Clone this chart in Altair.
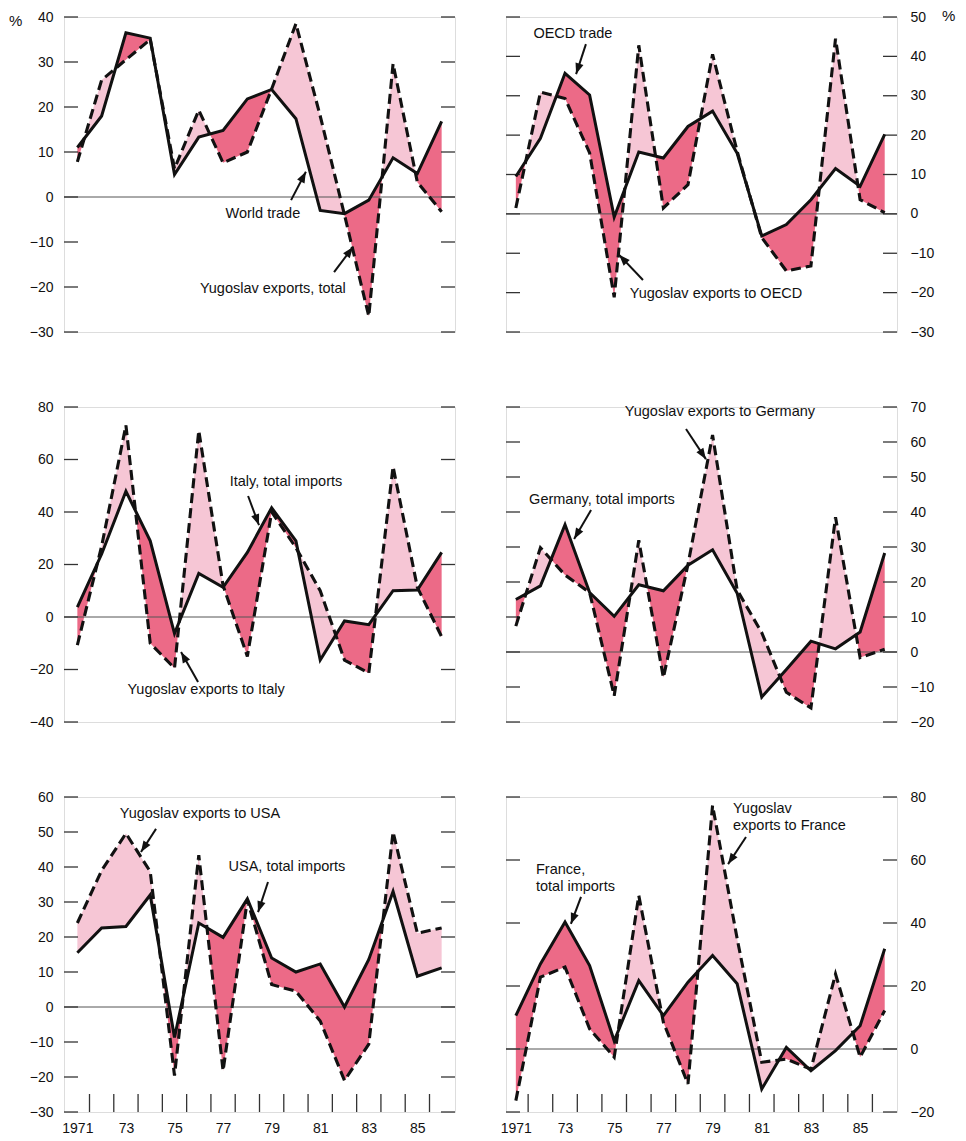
import math
import altair as alt
import pandas as pd

# ---------------- data (annual % change) ----------------
years = list(range(1971, 1987))

world_trade = [11, 18, 36.5, 35.3, 5, 13.3, 14.8, 21.8, 23.9, 17.4, -3, -3.7, -0.7, 8.7, 5.2, 16.8]
yu_total = [7.8, 26, 30.5, 35, 6.3, 19.3, 7.6, 10, 24, 38.5, 18, -4, -26.5, 29.6, 3.3, -3.3]

oecd_trade = [9.5, 19.2, 35.7, 30.2, -0.8, 15.7, 14.2, 22.2, 26.1, 15.4, -5.6, -2.7, 3.6, 11.5, 7, 20.2]
yu_oecd = [1.5, 30.9, 29.3, 15.5, -21.2, 42.8, 1.5, 7.4, 40.5, 15.9, -6, -14.5, -13.2, 44.5, 3.6, 0.3]

italy_imports = [3.8, 24, 47.9, 29, -6.3, 16.6, 11.3, 24.6, 41.6, 29, -16.4, -1.5, -2.9, 10, 10.3, 24.6]
yu_italy = [-10.7, 27, 73, -10, -19.5, 71, 12, -15, 40, 26.4, 10, -16.4, -21.4, 57.3, 11.3, -7.5]

germany_imports = [15, 18.9, 36.4, 17, 10.2, 19.2, 17.5, 24.8, 29.2, 16.8, -12.9, -5, 3.1, 0.9, 5.7, 28.3]
yu_germany = [7.4, 29.8, 22, 17, -12.5, 31.9, -7.3, 25, 62, 17.7, 5.5, -11.5, -16, 38.5, -1.6, 0.8]

usa_imports = [15.5, 22.6, 23, 32, -8.7, 24, 19.9, 30.9, 14, 10, 12.3, 0, 13.6, 33, 8.8, 11.2]
yu_usa = [24, 39, 49.6, 38.7, -19.6, 43.4, -18.2, 30.6, 6.4, 4.5, -4, -21, -10.6, 50, 21.1, 22.6]

france_imports = [10.6, 27, 40.3, 26.5, 2.6, 21.7, 10.6, 21.2, 29.7, 20.7, -12.7, 0.5, -6.9, -0.5, 7.4, 31.8]
yu_france = [-16.4, 22.8, 26, 6.4, -2.6, 48.7, 8.5, -11.1, 77.3, 35, -4.2, -3.2, -6.4, 23.8, -2.6, 12.2]

year_labels = [1971, 1973, 1975, 1977, 1979, 1981, 1983, 1985]

# annotations: (x, y, text, align)
notes1 = [(1978.64, -3.8, "World trade", "center"),
          (1979.05, -20.4, "Yugoslav exports, total", "center")]
arrows1 = [(1979.8, -0.7, 1980.41, 5.6), (1981.57, -16.7, 1982.35, -11.1)]

notes2 = [(1973.32, 45.7, "OECD trade", "center"),
          (1979.14, -20.3, "Yugoslav exports to OECD", "center")]
arrows2 = [(1973.85, 43.1, 1973.45, 35.5), (1976.17, -16.8, 1975.2, -10.4)]

notes3 = [(1979.59, 51.4, "Italy, total imports", "center"),
          (1976.3, -27.8, "Yugoslav exports to Italy", "center")]
arrows3 = [(1978.03, 46.1, 1978.48, 35.0), (1975.97, -24.8, 1975.27, -13.3)]

notes4 = [(1979.3, 68.6, "Yugoslav exports to Germany", "center"),
          (1974.5, 43.4, "Germany, total imports", "center")]
arrows4 = [(1977.92, 63.7, 1978.73, 55.1), (1974.06, 40.6, 1973.37, 32.3)]

notes5 = [(1976.05, 55.1, "Yugoslav exports to USA", "center"),
          (1979.63, 40.0, "USA, total imports", "center")]
arrows5 = [(1974.24, 50.9, 1973.62, 44.3), (1978.85, 35.7, 1978.44, 27.1)]

notes6 = [(1979.83, 76.2, "Yugoslav\nexports to France", "left"),
          (1971.82, 56.8, "France,\ntotal imports", "left")]
arrows6 = [(1980.36, 67.3, 1979.63, 58.7), (1973.65, 48.3, 1973.24, 39.7)]

# ---------------- styling ----------------
W, H = 391, 315
LIGHT = "#f6c6d5"
DARK = "#ec6a87"
INK = "#111111"
LABEL_FONT = "Liberation Sans Narrow, Liberation Sans, Arial, sans-serif"
TEXT_FONT = "Liberation Sans, Arial, Helvetica, sans-serif"
ARROW = "M0,0L-0.38,1L0.38,1Z"


def fill_frame(solid, dashed):
    rows = []
    n = len(years)
    for i in range(n):
        rows.append((years[i], solid[i], dashed[i]))
        if i < n - 1:
            d0 = dashed[i] - solid[i]
            d1 = dashed[i + 1] - solid[i + 1]
            if d0 * d1 < 0:
                t = d0 / (d0 - d1)
                v = solid[i] + t * (solid[i + 1] - solid[i])
                rows.append((years[i] + t, v, v))
    df = pd.DataFrame(rows, columns=["x", "solid", "dashed"])
    df["hi"] = df[["solid", "dashed"]].max(axis=1)
    df["lo"] = df[["solid", "dashed"]].min(axis=1)
    return df


def panel(solid, dashed, ydom, ystep, side, xdom, bottom, notes, arrows, pct=None):
    yticks = list(range(ydom[0], ydom[1] + 1, ystep))
    yaxis = alt.Axis(orient=side, values=yticks, grid=False, domain=False, ticks=False,
                     tickSize=0, labelPadding=11 if side == "left" else 13,
                     labelFont=LABEL_FONT, labelFontSize=14, labelColor=INK, title=None)
    yscale = alt.Scale(domain=ydom, nice=False, zero=False)
    xscale = alt.Scale(domain=xdom, nice=False, zero=False)
    if bottom:
        xaxis = alt.Axis(values=year_labels, grid=False, domain=False, ticks=False, tickSize=0,
                         labelPadding=9, labelFont=LABEL_FONT, labelFontSize=14,
                         labelColor=INK, title=None,
                         labelExpr="datum.value == 1971 ? '1971' : substring(toString(datum.value), 2, 4)")
    else:
        xaxis = None

    def X(f):
        return alt.X(f + ":Q", scale=xscale, axis=xaxis, title=None)

    def Y(f):
        return alt.Y(f + ":Q", scale=yscale, axis=yaxis, title=None)

    fdf = fill_frame(solid, dashed)
    ldf = pd.DataFrame({"year": years, "solid": solid, "dashed": dashed})
    tdf = pd.DataFrame({"v": yticks})

    layers = [
        alt.Chart(fdf).mark_area(color=LIGHT, opacity=1).encode(x=X("x"), y=Y("solid"), y2="hi:Q"),
        alt.Chart(fdf).mark_area(color=DARK, opacity=1).encode(x=X("x"), y=Y("solid"), y2="lo:Q"),
        alt.Chart(pd.DataFrame({"v": [0]})).mark_rule(color="#555555", strokeWidth=1).encode(y=Y("v")),
        alt.Chart(tdf).mark_rule(color="#333333", strokeWidth=1.3).encode(
            y=Y("v"), x=alt.value(0), x2=alt.value(14)),
        alt.Chart(tdf).mark_rule(color="#333333", strokeWidth=1.3).encode(
            y=Y("v"), x=alt.value(W - 14), x2=alt.value(W)),
    ]
    if bottom:
        bdf = pd.DataFrame({"b": [y + 0.5 for y in years[:-1]]})
        layers.append(alt.Chart(bdf).mark_rule(color="#333333", strokeWidth=1.3).encode(
            x=X("b"), y=alt.value(H - 18), y2=alt.value(H)))
    layers += [
        alt.Chart(ldf).mark_line(color=INK, strokeWidth=3.0, strokeJoin="miter").encode(
            x=X("year"), y=Y("solid")),
        alt.Chart(ldf).mark_line(color=INK, strokeWidth=3.1, strokeDash=[10, 5],
                                 strokeJoin="miter").encode(x=X("year"), y=Y("dashed")),
    ]

    pxy = W / (xdom[1] - xdom[0])
    pxv = H / (ydom[1] - ydom[0])
    arows = []
    for (x0, y0, x1, y1) in arrows:
        dx = (x1 - x0) * pxy
        dy = -(y1 - y0) * pxv
        ang = math.degrees(math.atan2(dx, -dy)) % 360
        arows.append({"x": x0, "y": y0, "x2": x1, "y2": y1, "ang": ang})
    adf = pd.DataFrame(arows)
    layers += [
        alt.Chart(adf).mark_rule(color=INK, strokeWidth=2).encode(
            x=X("x"), y=Y("y"), x2="x2:Q", y2="y2:Q"),
        alt.Chart(adf).mark_point(shape=ARROW, filled=True, color=INK, opacity=1,
                                  size=480, strokeWidth=0).encode(
            x=X("x2"), y=Y("y2"), angle=alt.Angle("ang:Q", scale=None)),
    ]
    for (nx, ny, txt, al) in notes:
        ndf = pd.DataFrame({"x": [nx], "y": [ny], "t": [txt]})
        layers.append(alt.Chart(ndf).mark_text(font=TEXT_FONT, fontSize=14.5, color=INK,
                                               align=al, baseline="middle", lineBreak="\n",
                                               lineHeight=17).encode(
            x=X("x"), y=Y("y"), text="t:N"))
    if pct is not None:
        px, py = pct
        pdf = pd.DataFrame({"y": [py], "t": ["%"]})
        layers.append(alt.Chart(pdf).mark_text(font=TEXT_FONT, fontSize=15, color=INK,
                                               align="left", baseline="middle").encode(
            x=alt.value(px), y=Y("y"), text="t:N"))
    return alt.layer(*layers).properties(width=W, height=H)


XL = [1970.45, 1986.55]
XR = [1970.6, 1986.5]

p1 = panel(world_trade, yu_total, [-30, 40], 10, "left", XL, False, notes1, arrows1, pct=(-55, 39.2))
p2 = panel(oecd_trade, yu_oecd, [-30, 50], 10, "right", XR, False, notes2, arrows2, pct=(W + 45, 50.3))
p3 = panel(italy_imports, yu_italy, [-40, 80], 20, "left", XL, False, notes3, arrows3)
p4 = panel(germany_imports, yu_germany, [-20, 70], 10, "right", XR, False, notes4, arrows4)
p5 = panel(usa_imports, yu_usa, [-30, 60], 10, "left", XL, True, notes5, arrows5)
p6 = panel(france_imports, yu_france, [-20, 80], 20, "right", XR, True, notes6, arrows6)

chart = alt.concat(p1, p2, p3, p4, p5, p6, columns=2, spacing={"row": 75, "column": 51},
                   bounds="flush").properties(padding=0).configure_view(
    stroke="#333333", strokeWidth=1.4).configure(background="white")

chart.save("out.html", embed_options={"renderer": "svg", "actions": False})
